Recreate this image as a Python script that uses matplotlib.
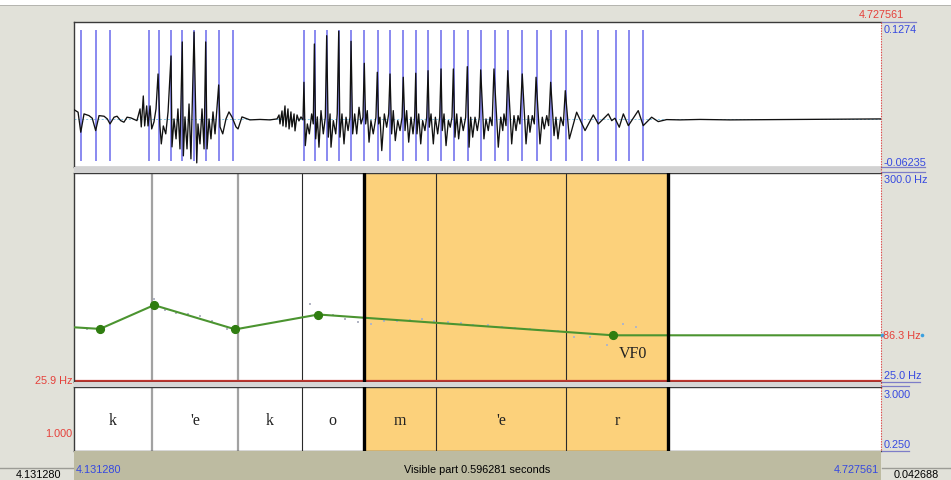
import matplotlib.pyplot as plt
from matplotlib.lines import Line2D
from matplotlib.patches import Rectangle
from matplotlib.transforms import blended_transform_factory

# visible window (s)
T_START = 4.131280
T_END = 4.727561

# waveform breakpoints: ms after T_START, amplitude in 1/1000
wave_ms = [0.0, 3.0, 5.0, 7.4, 11.1, 13.5, 16.0, 18.5, 22.2, 24.6, 26.6, 29.6, 31.8, 34.5, 36.9, 39.2, 42.1, 46.5,
           48.8, 49.7, 51.2, 52.2, 53.7, 54.7, 56.2, 57.4, 59.1, 60.6, 62.1, 63.5, 64.5, 66.0, 67.8, 69.5, 71.7, 72.4,
           73.9, 75.4, 76.8, 78.3, 80.0, 80.8, 82.0, 83.5, 85.0, 86.4, 88.7, 90.7, 91.6, 93.1, 94.6, 96.1, 97.3, 98.3,
           99.8, 101.2, 102.7, 104.2, 106.9, 107.9, 109.9, 112.3, 114.5, 116.7, 119.7, 121.2, 124.1, 130.0, 137.4, 144.8,
           150.0, 151.5, 152.2, 153.7, 154.4, 155.9, 156.6, 158.1, 158.9, 160.3, 161.1, 162.6, 163.3, 164.8, 166.2, 167.7, 169.2,
           169.9, 170.9, 172.4, 173.9, 175.6, 176.8,
           177.6, 178.6, 179.8, 181.0, 182.5, 184.2, 185.7,
           186.7, 187.9, 189.2, 189.9, 191.6, 193.4, 194.5,
           195.6, 196.5, 198.0, 199.5, 201.0, 202.5, 203.9,
           204.7, 205.9, 207.4, 208.9, 210.6, 212.1, 213.5,
           214.5, 215.5, 216.7, 218.0, 219.4, 221.1, 223.1,
           224.1, 225.1, 226.1, 227.4, 229.3, 231.0, 232.5,
           233.5, 234.7, 235.9, 237.4, 239.2, 240.9, 242.4,
           243.3, 244.6, 245.8, 247.3, 249.0, 250.5, 251.7,
           252.5, 253.4, 254.7, 256.2, 257.6, 259.3, 260.6,
           261.6, 262.5, 263.8, 265.5, 267.0, 268.7, 270.2,
           271.2, 272.1, 273.4, 274.9, 276.6, 278.0, 279.3,
           280.3, 281.5, 282.8, 284.2, 285.9, 287.6, 289.4,
           290.6, 291.9, 293.1, 294.6, 296.3, 298.0, 299.5,
           300.5, 302.9, 304.4, 306.1, 307.4, 308.9,
           310.3, 313.5, 315.3, 316.8, 317.7, 319.2,
           320.5, 323.4, 325.1, 326.6, 328.1, 329.5,
           331.2, 334.0, 335.7, 336.9, 338.6, 340.1,
           341.4, 344.3, 346.0, 347.5, 349.3, 350.7,
           352.2, 354.7, 356.1, 357.6, 359.6, 361.5,
           363.0, 366.0, 371.4, 377.6, 383.7, 387.4, 394.8, 397.3, 399.7, 402.9, 405.9, 409.6, 416.9,
           420.6, 426.8, 431.7, 437.9, 447.8, 462.5, 484.7, 596.3]
wave_amp = [12.4, 9.0, -17.8, 6.7, 4.4, 0.9, -15.6, 4.4, 3.6, 0.0, -6.7, 2.3, 3.6, -2.3, -4.4, 2.3, 1.3, -2.3,
            13.4, -10.7, 30.7, -9.4, 17.4, -9.4, 17.4, -13.4, -4.0, 13.4, 60.1, -9.4, -33.4, -9.4, -20.0, 9.4, 84.2, -37.4,
            0.0, -26.7, 13.4, -40.1, 102.9, -49.4, 2.7, -40.1, 20.0, -53.4, 116.2, -58.8, -6.7, -33.4, 13.4, -40.1, 102.9, -40.1,
            0.0, -26.7, 9.4, -20.0, 45.4, -10.7, -20.0, 0.0, 9.4, 2.7, -10.7, -13.4, 2.7, -1.3, -0.7, -1.3,
            0.0, 5.3, -6.7, 10.7, -9.4, 17.4, -10.7, 13.4, -13.4, 9.4, -10.7, 6.7, -16.0, 5.3, -2.7, 2.7, -1.3,
            49.0, -35.7, -6.7, -20.0, 6.7, -6.7,
            100.2, -26.7, 2.7, -37.8, 11.1, -20.0, 2.3,
            111.3, -24.4, 6.7, -37.8, -2.3, -20.0, 6.7,
            117.2, -24.4, 6.7, -33.4, 2.3, -15.6, 2.3,
            103.8, -20.0, 6.7, -20.0, 15.6, -6.7, 2.3,
            74.4, -6.7, 11.1, -31.1, -2.3, -20.0, 2.3,
            62.4, -6.7, 2.3, -42.4, 6.7, -11.1, 6.7,
            60.1, -20.0, 11.1, -29.0, -2.3, -15.6, 2.3,
            55.7, -15.6, 11.1, -31.1, 2.3, -20.0, 2.3,
            61.1, -20.0, 6.7, -33.4, -2.3, -15.6, 2.3,
            64.5, -11.1, 6.7, -33.4, 2.3, -20.0, 2.3,
            66.8, -15.6, 6.7, -35.7, -2.3, -11.1, 2.3,
            66.8, -24.4, 6.7, -26.7, 2.3, -15.6, 2.3,
            69.9, -37.8, 2.3, -24.4, 2.3, -15.6, 2.3,
            65.5, -26.7, 0.0, -15.6, 2.3, -9.0,
            66.8, -37.8, 2.3, -15.6, 6.7, -9.0,
            64.5, -33.4, 4.4, -15.6, 4.4, -6.7,
            60.1, -33.4, 4.4, -17.8, 4.4, -6.7,
            55.7, -33.4, 2.3, -13.4, 4.4, -9.0,
            49.0, -22.3, 2.3, -26.7, 2.3, -9.0,
            37.8, -26.7, 9.0, -15.6, 5.3, -6.7, 6.7, -2.3, 0.9, -11.1, 6.7, -9.0, 11.1,
            -9.0, 2.3, -3.6, -0.9, -1.3, -0.7, -1.3, 0.0]

# glottal pulses (ms after T_START)
pulse_ms = [5.2, 16.0, 26.6, 55.6, 63.0, 71.7, 80.0, 88.7, 97.3, 107.1, 117.7,
            170.2, 177.8, 186.7, 195.6, 204.9, 214.5, 224.4, 233.7, 243.1, 252.5, 261.8,
            271.2, 281.0, 290.9, 300.7, 310.8, 320.9, 331.2, 341.9, 352.7, 363.5,
            375.1, 387.0, 400.5, 410.3, 420.4]

# pitch tier points (s, Hz)
pitch_t = [4.1202, 4.15049, 4.19039, 4.25046, 4.31179, 4.52954]
pitch_hz = [98.0, 94.7, 125.9, 94.1, 113.6, 86.3]

# raw pitch samples (s, Hz)
samp_t = [4.13128, 4.14111, 4.19061, 4.19852, 4.20687, 4.21573, 4.22438, 4.23347, 4.24411,
          4.30566, 4.32243, 4.33174, 4.34090, 4.35073, 4.36033, 4.36994, 4.37932, 4.38863,
          4.39750, 4.40740, 4.41701, 4.42632, 4.43695, 4.44730, 4.45713, 4.46821, 4.47855,
          4.48912, 4.50072, 4.51254, 4.52488, 4.53670, 4.54653]
samp_hz = [102.1, 94.7, 134.3, 119.3, 116.2, 114.5, 111.3, 105.3, 94.7,
           127.7, 113.6, 107.9, 103.9, 101.7, 104.7, 104.7, 106.6, 108.3,
           105.6, 103.4, 102.6, 100.4, 99.4, 97.7, 95.5, 94.7, 92.8,
           92.0, 84.5, 83.6, 73.9, 101.3, 97.7]

# text grid tier
bounds = [4.18891, 4.25246, 4.29974, 4.34519, 4.39839, 4.49518, 4.57054]
labels = ['k', "'e", 'k', 'o', 'm', "'e", 'r', '']
SEL = (bounds[3], bounds[6])

W, H = 951, 481
BG = '#e1e1d9'
RED = '#e5403a'
BLUE = '#3548e0'
UI = 'Liberation Sans'

fig = plt.figure(figsize=(W / 100, H / 100), dpi=100)
fig.patch.set_facecolor(BG)


def box(x0, y0, x1, y1):
    return [x0 / W, 1 - y1 / H, (x1 - x0) / W, (y1 - y0) / H]


def fy(y):
    return 1 - y / H


def band(x0, y0, x1, y1, color):
    fig.patches.append(Rectangle((x0 / W, fy(y1)), (x1 - x0) / W, (y1 - y0) / H,
                                 transform=fig.transFigure, color=color, lw=0, zorder=0))


band(0, 0, W, 6, 'white')
band(0, 6, W, 7, '#b5b5b0')
band(74, 168, 881, 173.5, '#d2d2d2')
band(74, 383, 881, 387.5, '#d6d6d6')
band(74, 452, 881, H, '#bdbba1')

ax_w = fig.add_axes(box(74, 23, 881, 168))
ax_p = fig.add_axes(box(74, 173.5, 881, 383))
ax_t = fig.add_axes(box(74, 387.5, 881, 452))
for ax in (ax_w, ax_p, ax_t):
    ax.set_xlim(T_START, T_END)
    ax.set_xticks([])
    ax.set_yticks([])
    for s in ax.spines.values():
        s.set_color('#3a3a3a')
        s.set_linewidth(1.0)
    ax.spines['right'].set_visible(False)

# waveform
wt = [T_START + m / 1000 for m in wave_ms]
wa = [a / 1000 for a in wave_amp]
ax_w.set_ylim(-0.0643, 0.1296)
ax_w.axhline(0, color='#86c6e6', lw=0.7, ls=(0, (2, 2)), zorder=1)
ax_w.vlines([T_START + m / 1000 for m in pulse_ms], -0.0557, 0.119, color='#6a6aec', lw=1.1, zorder=2)
ax_w.plot(wt, wa, color='#111111', lw=0.95, zorder=3)

# pitch panel
ax_p.set_ylim(25, 300)
for ax in (ax_p, ax_t):
    ax.axvspan(SEL[0], SEL[1], color='#fcd17b', lw=0, zorder=0)
    for i, b in enumerate(bounds):
        if i < 2:
            ax.axvline(b, color='#a2a2a2', lw=1.6, zorder=1)
        else:
            ax.axvline(b, color='#2a2a2a', lw=0.8, zorder=1)
    for b in SEL:
        ax.axvline(b, color='black', lw=2.4, zorder=4)

ax_p.axhline(25.9, color='#c0352e', lw=1.6, zorder=2)
ax_p.plot(samp_t, samp_hz, ls='none', marker='s', ms=1.8, mew=0, color='#b3b6c4', zorder=2)
ax_p.plot(pitch_t + [T_END], pitch_hz + [pitch_hz[-1]], color='#4b9430', lw=1.5, zorder=3)
ax_p.plot(pitch_t, pitch_hz, ls='none', marker='o', ms=5.6, color='#2f7d10', zorder=3)
ax_p.annotate('VF0', xy=(pitch_t[-1], pitch_hz[-1]), xytext=(4.3, -12.5), textcoords='offset points',
              ha='left', va='center', fontsize=11.5, family='Liberation Serif', color='#222222')

# tier labels
edges = [T_START] + bounds + [T_END]
for i, lab in enumerate(labels):
    ax_t.text((edges[i] + edges[i + 1]) / 2, 0.42, lab, ha='center', va='baseline',
              fontsize=11.5, family='Liberation Serif', color='#222222', transform=ax_t.get_xaxis_transform())

# cursor at the window end
trans = blended_transform_factory(ax_p.transData, fig.transFigure)
fig.add_artist(Line2D([T_END, T_END], [fy(23), fy(452)], transform=trans, color='#e04848',
                      lw=0.8, ls=(0, (1.2, 1.2))))

# short rules on the right margin
for y, x1 in [(23.3, 916), (168.3, 925), (173.3, 925), (382.7, 920), (387.3, 909), (451.7, 909)]:
    fig.add_artist(Line2D([882 / W, x1 / W], [fy(y), fy(y)], color='#7d7dc8', lw=0.9))
fig.add_artist(Line2D([0, 73 / W], [fy(469), fy(469)], color='#9c9c96', lw=1.0))
fig.add_artist(Line2D([882 / W, 1], [fy(469), fy(469)], color='#9c9c96', lw=1.0))


def txt(x, y, s, color, ha='left', size=7.8):
    fig.text(x / W, fy(y), s, color=color, ha=ha, va='baseline', fontsize=size, family=UI)


txt(881, 18.5, '4.727561', RED, 'center')
txt(884, 33.3, '0.1274', BLUE)
txt(884, 166.5, '-0.06235', BLUE)
txt(884, 183.3, '300.0 Hz', BLUE)
txt(883, 339.3, '86.3 Hz', RED)
txt(884, 379.5, '25.0 Hz', BLUE)
txt(884, 397.7, '3.000', BLUE)
txt(884, 447.7, '0.250', BLUE)
txt(72.5, 384.3, '25.9 Hz', RED, 'right')
txt(72.5, 436.7, '1.000', RED, 'right')
txt(76, 472.7, '4.131280', BLUE)
txt(477.5, 472.7, 'Visible part 0.596281 seconds', 'black', 'center')
txt(879.5, 472.7, '4.727561', BLUE, 'right')
txt(38, 478.5, '4.131280', 'black', 'center')
txt(916.5, 478.5, '0.042688', 'black', 'center')

# little blue markers around the pitch value label
fig.add_artist(Line2D([882 / W, 922.3 / W], [fy(336), fy(336)], ls='none', marker='o', ms=2.6,
                      color='#3aa0e0', mew=0))

fig.savefig('out.png', dpi=100, facecolor=fig.get_facecolor())
